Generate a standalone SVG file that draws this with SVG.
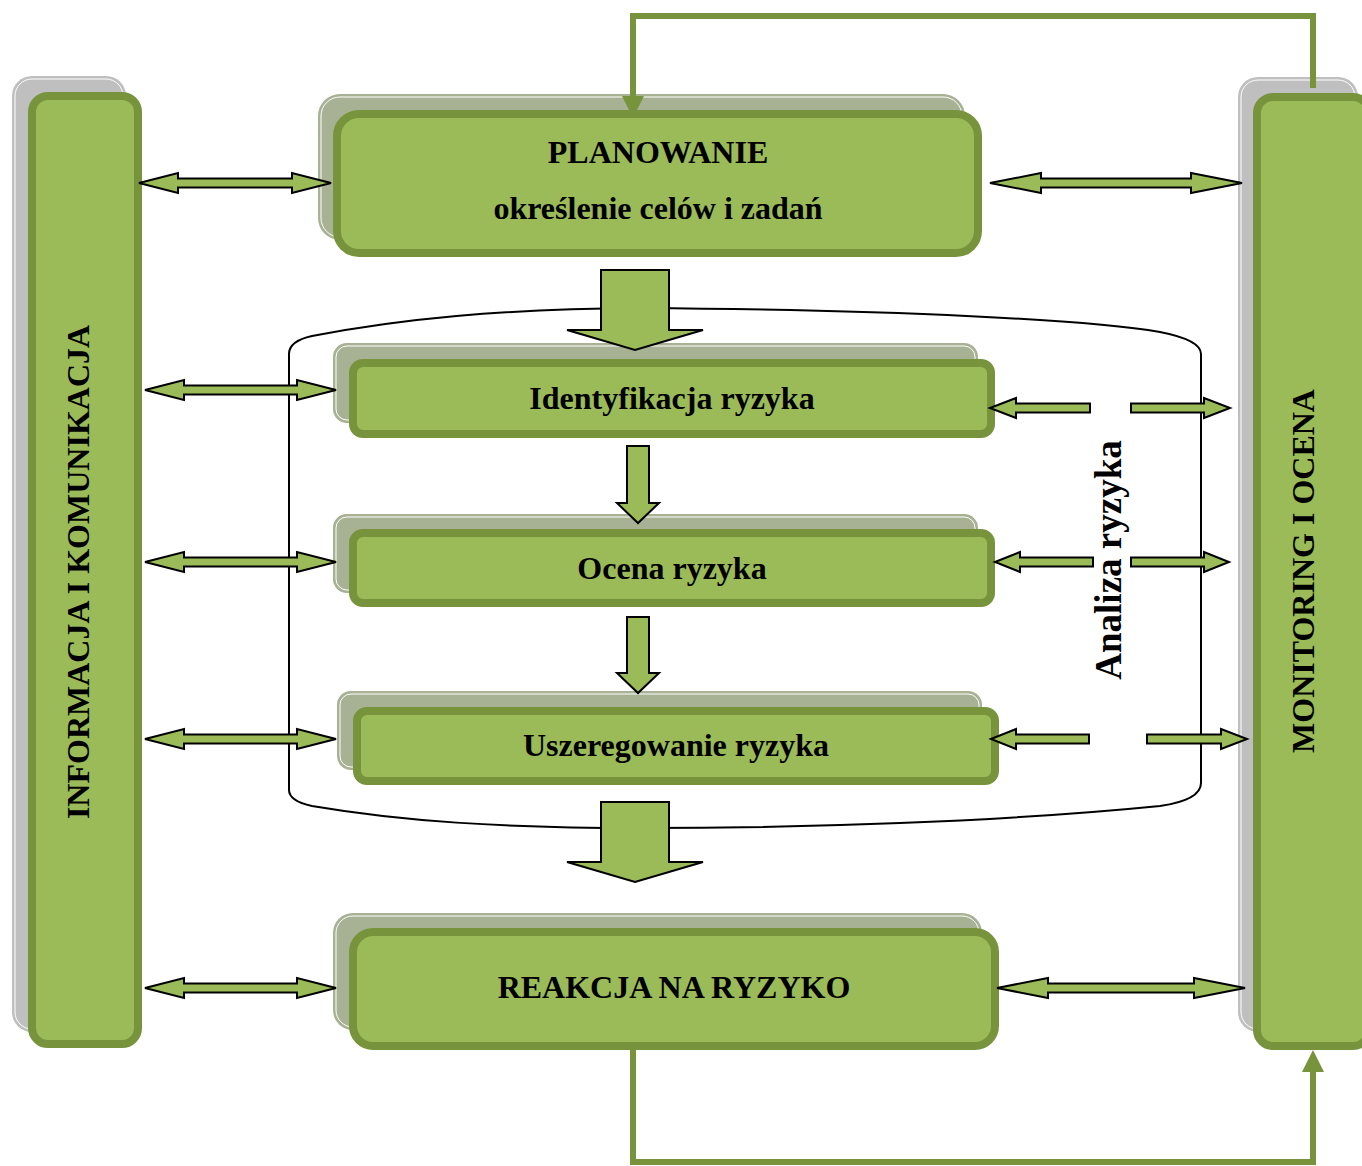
<svg xmlns="http://www.w3.org/2000/svg" width="1362" height="1166" viewBox="0 0 1362 1166">
<style>
.box{fill:#9bbb59;stroke:#77933c;stroke-width:8}
.shg{fill:#bfbfbf}
.shc{fill:#a7b193}
.shl{fill:none;stroke:#ffffff;stroke-width:1}
.arr{fill:#9bbb59;stroke:#000;stroke-width:2;stroke-linejoin:miter}
.loop{fill:none;stroke:#77933c;stroke-width:6}
.head{fill:#77933c}
.t{font-family:"Liberation Serif","Times New Roman",serif;font-weight:bold;font-size:32px;fill:#000;text-anchor:middle}
</style>
<rect x="0" y="0" width="1362" height="1166" fill="#ffffff"/>

<g id="informacja">
<rect class="shg" x="12" y="76" width="114" height="956" rx="20"/>
<rect class="shl" x="15" y="79" width="108" height="950" rx="17"/>
<rect class="box" x="32" y="96" width="106" height="948" rx="16"/>
<text class="t" transform="translate(89,572) rotate(-90)">INFORMACJA I KOMUNIKACJA</text>
</g>

<g id="monitoring">
<rect class="shg" x="1238" y="77" width="120" height="955" rx="20"/>
<rect class="shl" x="1241" y="80" width="114" height="949" rx="17"/>
<rect class="box" x="1257" y="97" width="112" height="949" rx="16"/>
<text class="t" transform="translate(1314,571) rotate(-90)">MONITORING I OCENA</text>
</g>

<g id="planowanie">
<rect class="shc" x="318" y="94" width="647" height="146" rx="22"/>
<rect class="shl" x="321" y="97" width="641" height="140" rx="19"/>
<rect class="box" x="337" y="114" width="641" height="139" rx="22"/>
<text class="t" x="658" y="163">PLANOWANIE</text>
<text class="t" x="658" y="219">określenie celów i zadań</text>
</g>

<g id="analiza">
<path d="M289,790 L289,354 Q289,341 312,336 C400,319 500,309 640,308 C900,310 1090,320 1160,332 Q1201,340 1201,354 L1201,783 Q1201,800 1160,806 C1000,822 800,828 640,828 C500,828 400,821 312,806 Q289,801 289,790 Z" fill="none" stroke="#000" stroke-width="2"/>
<text class="t" style="font-size:37px" transform="translate(1121,560) rotate(-90)">Analiza ryzyka</text>
</g>

<g id="identyfikacja">
<rect class="shc" x="333" y="343" width="645" height="80" rx="14"/>
<rect class="shl" x="336" y="346" width="639" height="74" rx="11"/>
<rect class="box" x="353" y="363" width="638" height="71" rx="10"/>
<text class="t" x="672" y="409">Identyfikacja ryzyka</text>
</g>

<g id="ocena">
<rect class="shc" x="333" y="514" width="645" height="79" rx="14"/>
<rect class="shl" x="336" y="517" width="639" height="73" rx="11"/>
<rect class="box" x="353" y="533" width="638" height="70" rx="10"/>
<text class="t" x="672" y="579">Ocena ryzyka</text>
</g>

<g id="uszeregowanie">
<rect class="shc" x="337" y="691" width="645" height="79" rx="14"/>
<rect class="shl" x="340" y="694" width="639" height="73" rx="11"/>
<rect class="box" x="357" y="711" width="638" height="70" rx="10"/>
<text class="t" x="676" y="756">Uszeregowanie ryzyka</text>
</g>

<g id="reakcja">
<rect class="shc" x="333" y="913" width="649" height="117" rx="20"/>
<rect class="shl" x="336" y="916" width="643" height="111" rx="17"/>
<rect class="box" x="353" y="932" width="642" height="114" rx="20"/>
<text class="t" x="674" y="998">REAKCJA NA RYZYKO</text>
</g>

<g id="connectors">
<polygon class="arr" points="139,183 178,173 178,178.5 292,178.5 292,173 331,183 292,193 292,187.5 178,187.5 178,193"/>
<polygon class="arr" points="990,183 1041,173 1041,178.5 1191,178.5 1191,173 1242,183 1191,193 1191,187.5 1041,187.5 1041,193"/>
<polygon class="arr" points="145,390 184,380 184,385.5 297,385.5 297,380 336,390 297,400 297,394.5 184,394.5 184,400"/>
<polygon class="arr" points="145,562 184,552 184,557.5 297,557.5 297,552 336,562 297,572 297,566.5 184,566.5 184,572"/>
<polygon class="arr" points="145,739 184,729 184,734.5 297,734.5 297,729 336,739 297,749 297,743.5 184,743.5 184,749"/>
<polygon class="arr" points="145,988 184,978 184,983.5 297,983.5 297,978 336,988 297,998 297,992.5 184,992.5 184,998"/>
<polygon class="arr" points="997,988 1048,978 1048,983.5 1194,983.5 1194,978 1245,988 1194,998 1194,992.5 1048,992.5 1048,998"/>

<polygon class="arr" points="990,408 1016,398 1016,403.5 1090,403.5 1090,412.5 1016,412.5 1016,418"/>
<polygon class="arr" points="1131,403.5 1204,403.5 1204,398 1230,408 1204,418 1204,412.5 1131,412.5"/>
<polygon class="arr" points="995,562 1020,552 1020,557.5 1093,557.5 1093,566.5 1020,566.5 1020,572"/>
<polygon class="arr" points="1131,557.5 1204,557.5 1204,552 1229,562 1204,572 1204,566.5 1131,566.5"/>
<polygon class="arr" points="991,739 1016,729 1016,734.5 1089,734.5 1089,743.5 1016,743.5 1016,749"/>
<polygon class="arr" points="1147,734.5 1221,734.5 1221,729 1247,739 1221,749 1221,743.5 1147,743.5"/>

<polygon class="arr" points="601,270 669,270 669,330 703,330 635,350 567,330 601,330"/>
<polygon class="arr" points="627,446 649,446 649,503 659,503 638,523 617,503 627,503"/>
<polygon class="arr" points="627,617 649,617 649,673 659,673 638,693 617,673 627,673"/>
<polygon class="arr" points="601,802 669,802 669,862 703,862 635,882 567,862 601,862"/>

<polyline class="loop" points="1313,88 1313,16 633,16 633,98"/>
<polygon class="head" points="622,96 644,96 633,118"/>
<polyline class="loop" points="633,1048 633,1162 1313,1162 1313,1070"/>
<polygon class="head" points="1302,1072 1324,1072 1313,1050"/>
</g>
</svg>
